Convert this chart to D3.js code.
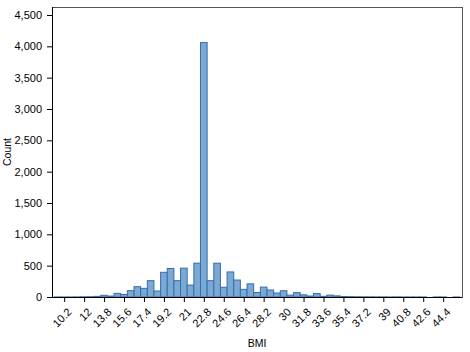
<!DOCTYPE html>
<html>
<head>
<meta charset="utf-8">
<script src="https://cdn.jsdelivr.net/npm/d3@7"></script>
<style>
  body { margin: 0; background: #fff; }
  svg { display: block; font-family: "Liberation Sans", Arial, sans-serif; }
  .axis text { font-size: 11px; fill: #000; }
  .axis path, .axis line { stroke: #000; }
  .axis-label { font-size: 10.5px; fill: #000; }
</style>
</head>
<body>
<div class="bmi-hist"></div>
<script>
var w = 470;
var h = 352;
var pLeft = 52, pRight = 462, pTop = 7, pBottom = 297;

// bin centres (BMI, width 0.6) and counts
var binCenters = [9.6, 10.2, 10.8, 11.4, 12.0, 12.6, 13.2, 13.8, 14.4, 15.0,
  15.6, 16.2, 16.8, 17.4, 18.0, 18.6, 19.2, 19.8, 20.4, 21.0,
  21.6, 22.2, 22.8, 23.4, 24.0, 24.6, 25.2, 25.8, 26.4, 27.0,
  27.6, 28.2, 28.8, 29.4, 30.0, 30.6, 31.2, 31.8, 32.4, 33.0,
  33.6, 34.2, 34.8, 35.4, 36.0, 36.6, 37.2, 37.8, 38.4, 39.0,
  39.6, 40.2, 40.8, 41.4, 42.0, 42.6, 43.2, 43.8, 44.4, 45.0, 45.6];
var counts = [1, 1, 1, 2, 3, 5, 10, 27, 15, 58,
  40, 101, 165, 138, 261, 96, 394, 455, 261, 460,
  190, 540, 4060, 261, 540, 155, 400, 271, 122, 210,
  72, 158, 112, 64, 100, 30, 70, 35, 16, 56,
  11, 30, 18, 8, 6, 4, 3, 3, 2, 2,
  1, 2, 1, 1, 1, 1, 0, 1, 1, 0, 1];
var binWidth = 0.6;
var xTicks = [10.2, 12, 13.8, 15.6, 17.4, 19.2, 21, 22.8, 24.6, 26.4, 28.2,
  30, 31.8, 33.6, 35.4, 37.2, 39, 40.8, 42.6, 44.4];
var yTicks = [0, 500, 1000, 1500, 2000, 2500, 3000, 3500, 4000, 4500];

var data = binCenters.map(function(c, i) { return {c: c, n: counts[i]}; });

var svg = d3.select(".bmi-hist")
  .append("svg")
  .attr("width", w)
  .attr("height", h);

var xScale = d3.scaleLinear()
  .domain([9.1, 46.1])
  .range([pLeft, pRight]);
var yScale = d3.scaleLinear()
  .domain([0, 4500])
  .range([pBottom, 15]);

// frame
svg.append("rect")
  .attr("x", pLeft + 0.5)
  .attr("y", pTop + 0.5)
  .attr("width", pRight - pLeft)
  .attr("height", pBottom - pTop)
  .style("fill", "none")
  .style("stroke", "#555")
  .style("stroke-width", 1);

svg.append("g")
  .selectAll("rect")
  .data(data)
  .enter()
  .append("rect")
    .attr("x", function(d) { return xScale(d.c - binWidth / 2); })
    .attr("width", function(d) { return xScale(d.c + binWidth / 2) - xScale(d.c - binWidth / 2); })
    .attr("y", function(d) { return yScale(d.n); })
    .attr("height", function(d) { return pBottom - yScale(d.n); })
    .style("fill", "#7ca8d4")
    .style("stroke", "#3470ad")
    .style("stroke-width", 1);

var xAxis = d3.axisBottom(xScale)
  .tickValues(xTicks)
  .tickFormat(function(d) { return String(d); })
  .tickSize(5)
  .tickSizeOuter(0);
var yAxis = d3.axisLeft(yScale)
  .tickValues(yTicks)
  .tickFormat(d3.format(","))
  .tickSize(5)
  .tickPadding(5)
  .tickSizeOuter(0);

var gx = svg.append("g")
  .attr("class", "axis")
  .attr("transform", "translate(0," + pBottom + ")")
  .call(xAxis);
gx.select(".domain").attr("d", "M" + pLeft + ",0.5H" + pRight);
gx.selectAll("text")
  .attr("x", 0)
  .attr("y", 0)
  .attr("dy", "0.35em")
  .attr("text-anchor", "end")
  .attr("transform", "translate(5,13) rotate(-45)");

var gy = svg.append("g")
  .attr("class", "axis")
  .attr("transform", "translate(" + pLeft + ",0)")
  .call(yAxis);
gy.select(".domain").attr("d", "M0.5," + pTop + "V" + pBottom);

svg.append("text")
  .attr("class", "axis-label")
  .attr("transform", "rotate(-90)")
  .attr("x", -(pTop + pBottom) / 2)
  .attr("y", 11)
  .attr("text-anchor", "middle")
  .text("Count");

svg.append("text")
  .attr("class", "axis-label")
  .attr("x", 257)
  .attr("y", 347)
  .attr("text-anchor", "middle")
  .text("BMI");
</script>
</body>
</html>
